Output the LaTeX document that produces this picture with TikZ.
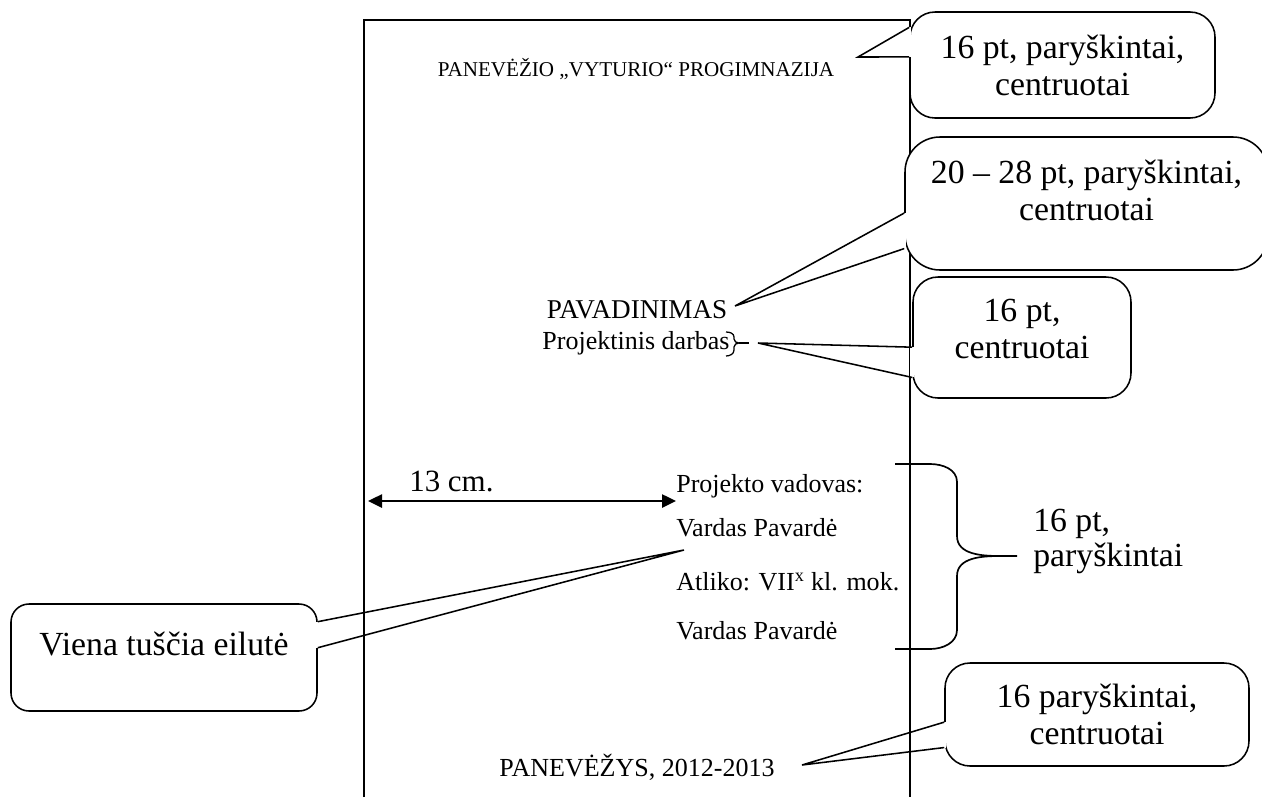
\documentclass[tikz,border=0pt]{standalone}
\usepackage{fontspec}
\setmainfont{Liberation Serif}
\usetikzlibrary{arrows.meta, calc, positioning}

\newlength\pix
\setlength\pix{0.025cm}

\tikzset{
  body/.style={inner sep=0pt, font=\fontsize{18.5}{22}\selectfont},
  title/.style={inner sep=0pt, font=\fontsize{15}{18}\selectfont},
  callbox/.style={draw, fill=white, line width=1.1pt, rounded corners=25\pix,
    align=center, inner sep=0pt, font=\fontsize{24}{26.3}\selectfont},
  pointer/.style={line width=1.1pt, line join=miter},
  gap/.style={white, line width=2.6pt},
  edge/.style={line width=1.1pt},
  dim/.style={{Triangle[length=3.5mm, width=3.25mm]}-{Triangle[length=3.5mm, width=3.25mm]}, line width=1.8pt}
}

\begin{document}
\begin{tikzpicture}[x=0.025cm, y=-0.025cm]
    \useasboundingbox (0,0) rectangle (1262,797);

    % Add the sheet
    \draw[edge] (364,797) -- (364,20) -- (910,20) -- (910,797);

    % Add the texts on the sheet
    \node[title, anchor=base]      (school) at (636,76)  {PANEVĖŽIO „VYTURIO“ PROGIMNAZIJA};
    \node[body, anchor=base, font=\fontsize{19.3}{22}\selectfont] (name) at (637,318) {PAVADINIMAS};
    \node[body, anchor=base]       (kind)   at (636,349) {Projektinis darbas};
    \node[body, anchor=base west]  (lead)   at (676,492) {Projekto vadovas:};
    \node[body, anchor=base west]  (lead2)  at (676,536) {Vardas Pavardė};
    \node[body, anchor=base west]  (pupil)  at (676,590) {Atliko: VII\textsuperscript{x} kl. mok.};
    \node[body, anchor=base west]  (pupil2) at (676,639) {Vardas Pavardė};
    \node[body, anchor=base]       (city)   at (637,776) {PANEVĖŽYS, 2012-2013};
    \node[inner sep=0pt, anchor=base west, font=\fontsize{22}{24}\selectfont] (dist) at (409,491) {13 cm.};

    % Add the margin arrow
    \coordinate (d1) at (368,501);
    \draw[dim] (d1) -- (lead.west |- d1);

    % Add the small brace after the subtitle
    \draw[line width=0.9pt] (726,332) to[out=0,in=90] (734,337) -- (734,339)
        to[out=-90,in=180] (739,343) to[out=180,in=90] (734,347) -- (734,350)
        to[out=-90,in=0] (726,356);
    \draw[line width=0.9pt] (739,343) -- (749,343);

    % Add the big brace
    \draw[line width=1.2pt] (895,464) -- (930,464) to[out=0,in=90] (957,482) -- (957,536)
        to[out=-90,in=180] (1000,556) -- (1017,556);
    \draw[line width=1.2pt] (1000,556) to[out=180,in=90] (957,576) -- (957,630)
        to[out=-90,in=0] (930,649) -- (895,649);
    \node[inner sep=0pt, anchor=base west, align=left, font=\fontsize{24}{24.2}\selectfont]
        (fmt) at (1033,566) {16 pt,\\paryškintai};

    % Add the callouts
    \coordinate (t1) at (858,57);
    \coordinate (t2) at (735,306);
    \coordinate (t3) at (758,343);
    \coordinate (t4) at (802,765);
    \coordinate (t5) at (684,550);

    \node[callbox, minimum width=305\pix, minimum height=106\pix] (c1) at (1062.5,65)
        {16 pt, paryškintai,\\centruotai};
    \node[callbox, rounded corners=35\pix, minimum width=363\pix, minimum height=133\pix,
        text depth=27\pix] (c2) at (1086.5,203.5) {20 – 28 pt, paryškintai,\\centruotai};
    \node[callbox, minimum width=218\pix, minimum height=121\pix, text depth=17\pix]
        (c3) at (1022,337.5) {16 pt,\\centruotai};
    \node[callbox, minimum width=304\pix, minimum height=103\pix]
        (c4) at (1097,714.5) {16 paryškintai,\\centruotai};
    \node[callbox, rounded corners=18\pix, minimum width=306\pix, minimum height=107\pix,
        text depth=28\pix] (c5) at (164,657.5) {Viena tuščia eilutė};

    \draw[gap] ($(c1.north west)!0.15!(c1.south west)$) -- ($(c1.north west)!0.425!(c1.south west)$);
    \draw[pointer] ($(c1.north west)!0.15!(c1.south west)$) -- (t1) -- ($(c1.north west)!0.425!(c1.south west)$);

    \draw[gap] ($(c2.north west)!0.571!(c2.south west)$) -- ($(c2.north west)!0.835!(c2.south west)$);
    \draw[pointer] ($(c2.north west)!0.571!(c2.south west)$) -- (t2) -- ($(c2.north west)!0.835!(c2.south west)$);

    \draw[gap] ($(c3.north west)!0.579!(c3.south west)$) -- ($(c3.north west)!0.826!(c3.south west)$);
    \draw[pointer] ($(c3.north west)!0.579!(c3.south west)$) -- (t3) -- ($(c3.north west)!0.826!(c3.south west)$);

    \draw[gap] ($(c4.north west)!0.573!(c4.south west)$) -- ($(c4.north west)!0.816!(c4.south west)$);
    \draw[pointer] ($(c4.north west)!0.573!(c4.south west)$) -- (t4) -- ($(c4.north west)!0.816!(c4.south west)$);

    \draw[gap] ($(c5.north east)!0.17!(c5.south east)$) -- ($(c5.north east)!0.41!(c5.south east)$);
    \draw[pointer] ($(c5.north east)!0.17!(c5.south east)$) -- (t5) -- ($(c5.north east)!0.41!(c5.south east)$);
\end{tikzpicture}
\end{document}
